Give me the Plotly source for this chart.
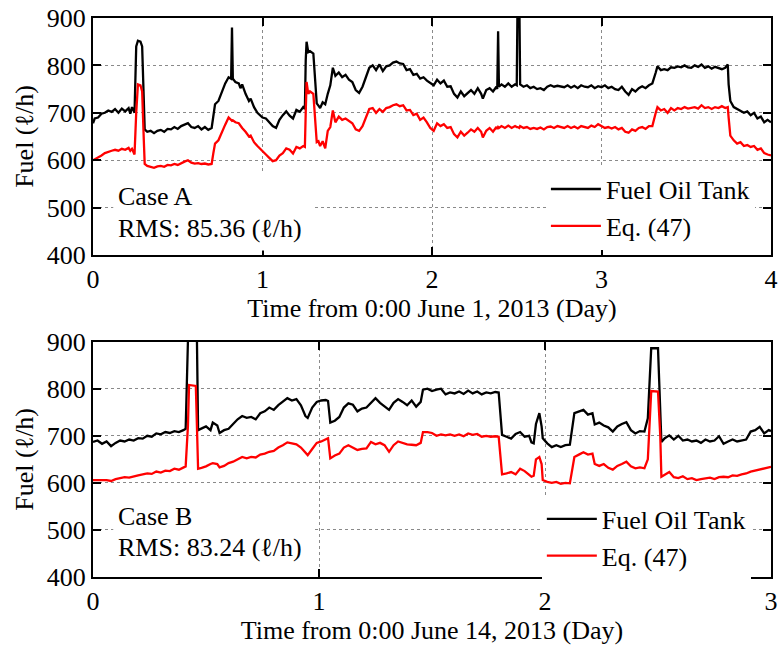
import plotly.graph_objects as go

# ---------------- Case A (June 1, 2013) ----------------
tA = [0.00,0.01,0.03,0.05,0.07,0.09,0.11,0.13,0.15,0.17,
      0.19,0.21,0.22,0.23,0.245,0.255,0.265,0.28,0.29,0.30,
      0.305,0.32,0.34,0.36,0.38,0.40,0.42,0.44,0.46,0.48,
      0.50,0.52,0.54,0.56,0.58,0.60,0.62,0.64,0.66,0.68,
      0.70,0.71,0.72,0.74,0.76,0.78,0.80,0.815,0.82,0.825,
      0.84,0.86,0.87,0.88,0.90,0.92,0.93,0.95,0.97,1.00,
      1.02,1.04,1.06,1.08,1.10,1.12,1.14,1.16,1.18,1.20,
      1.22,1.24,1.25,1.255,1.26,1.27,1.28,1.30,1.31,1.32,
      1.33,1.34,1.355,1.37,1.385,1.40,1.415,1.43,1.45,1.47,
      1.49,1.51,1.53,1.55,1.57,1.59,1.61,1.63,1.65,1.67,
      1.69,1.71,1.73,1.75,1.77,1.79,1.81,1.83,1.85,1.87,
      1.89,1.91,1.93,1.95,1.97,1.99,2.01,2.03,2.05,2.07,
      2.09,2.11,2.13,2.15,2.17,2.19,2.21,2.23,2.25,2.27,
      2.29,2.30,2.32,2.34,2.36,2.38,2.385,2.39,2.395,2.41,
      2.43,2.45,2.47,2.49,2.50,2.505,2.515,2.52,2.54,2.56,
      2.58,2.60,2.62,2.64,2.66,2.68,2.70,2.72,2.74,2.76,
      2.78,2.80,2.82,2.84,2.86,2.88,2.90,2.92,2.94,2.96,
      2.98,3.00,3.02,3.04,3.06,3.08,3.10,3.12,3.14,3.16,
      3.18,3.20,3.22,3.24,3.26,3.28,3.30,3.32,3.33,3.35,
      3.37,3.39,3.41,3.43,3.45,3.47,3.49,3.51,3.53,3.55,
      3.57,3.59,3.61,3.63,3.65,3.67,3.69,3.71,3.73,3.745,
      3.75,3.76,3.78,3.80,3.82,3.84,3.86,3.88,3.90,3.92,
      3.94,3.96,3.98,4.00]

tankA = [678,688,690,698,700,705,702,708,700,709,
         703,710,698,712,700,840,852,850,840,700,
         665,660,662,657,662,664,660,666,665,670,
         666,672,675,678,670,668,672,665,670,664,
         668,690,718,725,745,762,775,772,880,772,
         765,762,752,760,740,725,730,712,700,690,
         688,680,672,668,685,695,703,694,688,706,
         702,712,708,810,850,828,830,825,760,720,
         715,710,722,718,740,758,795,778,785,775,
         780,770,765,748,742,755,775,795,800,790,
         802,788,798,800,806,808,804,803,790,792,
         780,782,772,775,768,762,758,770,762,768,
         755,756,740,732,745,735,742,748,740,752,
         740,730,748,752,745,755,750,872,755,760,
         755,762,755,760,758,950,950,760,755,758,
         752,755,750,752,748,755,758,755,757,756,
         754,758,753,757,752,758,755,754,758,752,
         756,754,758,752,755,750,748,755,745,738,
         750,745,752,756,752,758,762,785,798,790,
         792,790,796,795,798,796,800,796,795,800,
         797,802,795,798,793,797,795,792,795,802,
         760,725,712,708,705,700,703,695,700,688,
         692,680,685,680]

eqA = [600,602,605,610,615,618,620,622,620,624,
       622,626,620,624,612,700,760,758,745,640,
       592,588,586,584,587,588,586,590,589,592,
       590,594,597,600,595,593,594,592,593,591,
       592,615,635,642,660,675,690,685,683,684,
       680,678,672,668,660,650,652,638,630,618,
       612,605,598,600,610,615,625,622,614,628,
       625,630,628,700,765,740,745,740,680,638,
       640,630,640,625,662,670,705,680,692,685,
       688,682,678,665,662,672,690,708,710,700,
       708,702,710,712,716,718,714,716,705,706,
       695,698,685,690,680,668,662,678,672,676,
       668,670,655,648,660,652,658,665,660,668,
       660,648,662,668,660,670,666,670,668,672,
       668,673,668,672,670,670,668,672,668,670,
       666,668,666,669,665,670,671,668,672,670,
       668,672,668,671,667,672,670,668,673,670,
       676,672,668,670,667,670,665,668,660,658,
       665,662,668,670,666,672,672,700,712,705,
       708,700,710,705,710,708,712,709,710,712,
       709,716,710,712,708,712,710,714,710,712,
       690,652,642,635,638,630,632,628,630,622,
       625,615,612,610]

# ---------------- Case B (June 14, 2013) ----------------
tB = [0.00,0.02,0.04,0.06,0.08,0.10,0.12,0.14,0.16,0.18,
      0.20,0.22,0.24,0.26,0.28,0.30,0.32,0.34,0.36,0.38,
      0.40,0.41,0.42,0.425,0.455,0.46,0.465,0.48,0.50,0.52,
      0.53,0.55,0.56,0.58,0.60,0.62,0.64,0.66,0.68,0.70,
      0.72,0.74,0.76,0.78,0.80,0.82,0.84,0.86,0.88,0.90,
      0.92,0.94,0.95,0.97,0.99,1.01,1.03,1.04,1.05,1.07,
      1.09,1.11,1.13,1.15,1.17,1.19,1.21,1.23,1.25,1.27,
      1.29,1.31,1.33,1.35,1.37,1.39,1.41,1.43,1.45,1.46,
      1.48,1.50,1.52,1.54,1.56,1.58,1.60,1.62,1.64,1.66,
      1.68,1.70,1.72,1.74,1.76,1.78,1.795,1.80,1.81,1.83,
      1.85,1.87,1.89,1.91,1.93,1.94,1.95,1.96,1.975,1.985,
      1.99,2.01,2.03,2.05,2.07,2.09,2.11,2.13,2.15,2.17,
      2.19,2.21,2.22,2.24,2.26,2.28,2.30,2.32,2.34,2.36,
      2.38,2.40,2.42,2.44,2.455,2.47,2.50,2.51,2.515,2.53,
      2.55,2.57,2.59,2.61,2.63,2.65,2.67,2.69,2.71,2.73,
      2.75,2.77,2.79,2.81,2.83,2.85,2.87,2.89,2.91,2.93,
      2.95,2.97,2.99,3.00]

tankB = [687,690,683,688,678,685,690,688,692,690,
         695,694,700,698,705,703,708,706,710,708,
         712,715,900,960,960,900,712,715,720,712,
         728,722,706,712,715,725,735,742,738,740,
         735,748,752,760,755,765,772,780,775,778,
         765,742,738,760,772,775,776,774,728,732,
         740,760,769,766,752,758,760,770,780,770,
         762,755,770,778,772,765,775,762,772,798,
         800,795,798,800,788,792,790,794,789,796,
         790,794,788,792,790,793,792,760,702,698,
         694,704,708,698,700,686,684,725,748,720,
         695,684,676,680,676,680,681,748,752,755,
         745,748,724,728,722,718,709,720,725,729,
         712,705,710,709,737,886,886,740,687,695,
         701,692,700,690,692,688,690,685,692,688,
         690,699,683,688,692,688,690,692,709,712,
         719,705,712,710]

eqB = [606,606,605,606,604,608,610,612,611,614,
       616,618,620,619,624,622,626,625,630,628,
       632,635,720,808,806,720,630,632,635,640,
       642,640,633,636,642,645,650,655,652,655,
       654,660,662,666,668,675,680,686,684,682,
       675,665,659,672,685,688,692,695,652,658,
       662,675,680,675,670,672,673,687,682,685,
       680,666,680,688,685,682,681,680,685,708,
       708,706,700,703,701,703,700,703,699,705,
       702,704,698,700,698,699,698,670,618,620,
       623,618,630,625,618,613,615,650,655,640,
       606,602,600,602,598,600,599,655,660,665,
       660,662,640,636,640,632,628,636,640,645,
       635,631,633,631,650,795,794,700,613,618,
       623,612,610,614,608,610,606,608,609,611,
       608,612,613,612,616,615,618,620,624,626,
       628,630,632,634]

series_names = ["Fuel Oil Tank", "Eq. (47)"]
xtitles = ["Time from 0:00 June 1, 2013 (Day)", "Time from 0:00 June 14, 2013 (Day)"]
ytitle = "Fuel (\u2113/h)"
case_labels = ["Case A", "Case B"]
rms_labels = ["RMS: 85.36 (\u2113/h)", "RMS: 83.24 (\u2113/h)"]
yticks = [400, 500, 600, 700, 800, 900]

FONT = "Liberation Serif"
FS = 26
LW = 2.3

fig = go.Figure()
fig.add_trace(go.Scatter(x=tA, y=tankA, mode="lines", name=series_names[0],
                         line=dict(color="black", width=LW), xaxis="x", yaxis="y", legend="legend"))
fig.add_trace(go.Scatter(x=tA, y=eqA, mode="lines", name=series_names[1],
                         line=dict(color="#ff0000", width=LW), xaxis="x", yaxis="y", legend="legend"))
fig.add_trace(go.Scatter(x=tB, y=tankB, mode="lines", name=series_names[0],
                         line=dict(color="black", width=LW), xaxis="x2", yaxis="y2", legend="legend2"))
fig.add_trace(go.Scatter(x=tB, y=eqB, mode="lines", name=series_names[1],
                         line=dict(color="#ff0000", width=LW), xaxis="x2", yaxis="y2", legend="legend2"))

axis_common = dict(showline=True, linecolor="black", linewidth=2, mirror="ticks",
                   ticks="inside", ticklen=8, tickwidth=2, tickcolor="black",
                   showgrid=True, gridcolor="#8a8a8a", griddash="dot", gridwidth=1,
                   zeroline=False, automargin=False,
                   tickfont=dict(family=FONT, size=FS, color="black"))

legend_common = dict(bgcolor="white", borderwidth=0, xanchor="left", yanchor="top",
                     font=dict(family=FONT, size=FS, color="black"), itemwidth=50,
                     tracegroupgap=0)

ann_common = dict(xanchor="left", yanchor="middle", align="left", showarrow=False,
                  bgcolor="white", borderpad=4, width=192, height=36,
                  font=dict(family=FONT, size=FS, color="black"))

fig.update_layout(
    width=781, height=652,
    margin=dict(l=93, r=10, t=18, b=75),
    paper_bgcolor="white", plot_bgcolor="white",
    font=dict(family=FONT, size=FS, color="black"),
    xaxis=dict(domain=[0, 1], anchor="y", range=[0, 4], tickvals=[0, 1, 2, 3, 4],
               title=dict(text=xtitles[0], standoff=2, font=dict(family=FONT, size=FS)),
               **axis_common),
    yaxis=dict(domain=[0.576, 1], anchor="x", range=[400, 900], tickvals=yticks,
               title=dict(text=ytitle, standoff=6, font=dict(family=FONT, size=FS)),
               **axis_common),
    xaxis2=dict(domain=[0, 1], anchor="y2", range=[0, 3], tickvals=[0, 1, 2, 3],
                title=dict(text=xtitles[1], standoff=2, font=dict(family=FONT, size=FS)),
                **axis_common),
    yaxis2=dict(domain=[0, 0.421], anchor="x2", range=[400, 900], tickvals=yticks,
                title=dict(text=ytitle, standoff=6, font=dict(family=FONT, size=FS)),
                **axis_common),
    legend=dict(x=0.668, y=0.736, **legend_common),
    legend2=dict(x=0.662, y=0.146, **legend_common),
    annotations=[
        dict(text=rms_labels[0], xref="x domain", yref="y domain", x=0.03, y=0.114, **ann_common),
        dict(text=case_labels[0], xref="x domain", yref="y domain", x=0.03, y=0.249, **ann_common),
        dict(text=rms_labels[1], xref="x2 domain", yref="y2 domain", x=0.03, y=0.126, **ann_common),
        dict(text=case_labels[1], xref="x2 domain", yref="y2 domain", x=0.03, y=0.258, **ann_common),
    ],
)

fig.write_html("out.html")
